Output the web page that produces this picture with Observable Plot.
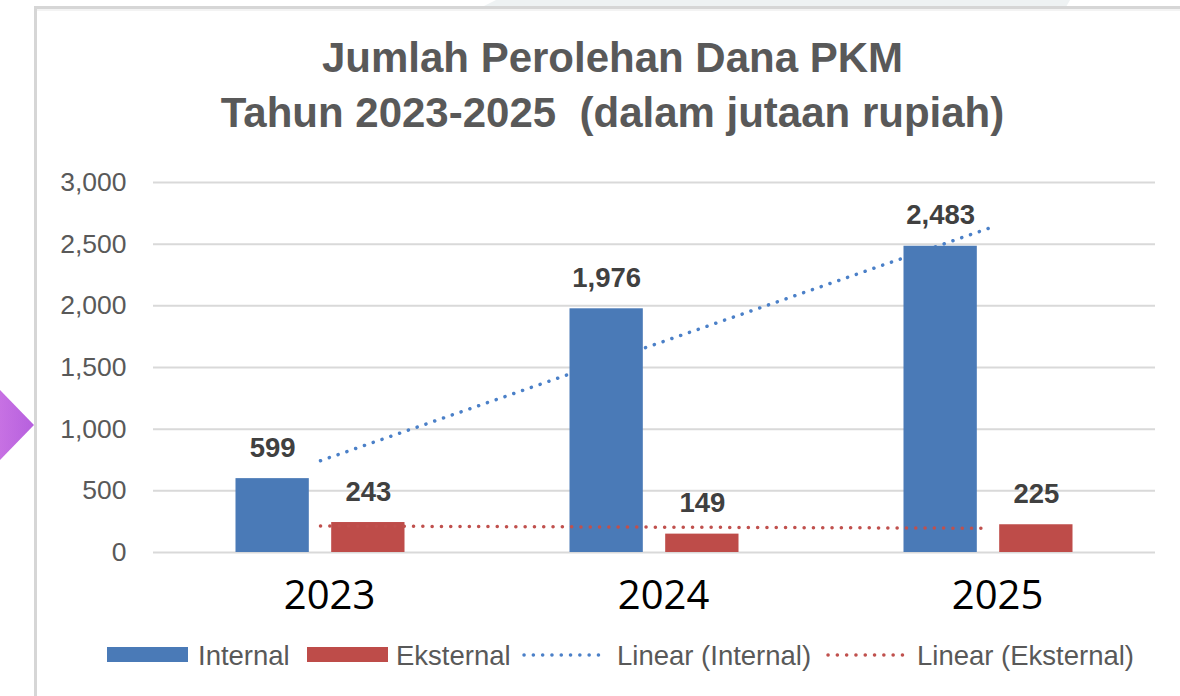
<!DOCTYPE html>
<html>
<head>
<meta charset="utf-8">
<script src="https://cdn.jsdelivr.net/npm/d3@7"></script>
<script src="https://cdn.jsdelivr.net/npm/@observablehq/plot@0.6"></script>
<style>
  html, body { margin: 0; padding: 0; background: #fff; }
  #page { position: relative; width: 1180px; height: 696px; overflow: hidden; background: #fff; font-family: "Liberation Sans", Arial, sans-serif; }
  #trap { position: absolute; left: 482px; top: 0; width: 588px; height: 7px; background: #eef2f3;
          clip-path: polygon(14px 0, 100% 0, calc(100% - 4px) 100%, 0 100%); }
  #panel { position: absolute; left: 34px; top: 6px; width: 1300px; height: 800px;
           border-left: 3px solid #d6d6d6; border-top: 3px solid #d6d6d6; box-shadow: inset 0 2px 0 #f3f3f3; }
  #tri { position: absolute; left: 0; top: 390px; width: 34px; height: 70px;
         background: linear-gradient(to right, #c771e3, #b660de); clip-path: polygon(0 0, 100% 50%, 0 100%); }
  #chart { position: absolute; left: 0; top: 0; }
  .title { position: absolute; left: 0; width: 1225px; text-align: center; font-weight: bold; font-size: 42px; line-height: 42px; color: #595959; white-space: pre; }
  .leg { position: absolute; font-size: 27.5px; line-height: 27px; color: #595959; white-space: pre; }
  .sw { position: absolute; height: 15px; }
</style>
</head>
<body>
<div id="page">
  <div id="trap"></div>
  <div id="panel"></div>
  <div id="tri"></div>
  <div id="chart"></div>
  <div class="title" style="top:37px">Jumlah Perolehan Dana PKM</div>
  <div class="title" style="top:92px">Tahun 2023-2025  (dalam jutaan rupiah)</div>
  <div id="legend"></div>
</div>
<script>
// ---- data ----
const years = [2023, 2024, 2025];
const internal = [599, 1976, 2483];
const eksternal = [243, 149, 225];
const seriesNames = ["Internal", "Eksternal"];
const yTicks = [0, 500, 1000, 1500, 2000, 2500, 3000];
const legendLabels = ["Internal", "Eksternal", "Linear (Internal)", "Linear (Eksternal)"];

// ---- styles ----
const barColors = {Internal: "#4a7ab7", Eksternal: "#be4c49"};
const trendColors = {Internal: "#4b80c8", Eksternal: "#c0504d"};
const barOffsets = {Internal: [-0.253, -0.0335], Eksternal: [0.0335, 0.253]};

const rows = years.flatMap((yr, i) => [
  {year: yr, series: "Internal", value: internal[i]},
  {year: yr, series: "Eksternal", value: eksternal[i]}
]);
const rowsInt = rows.filter(d => d.series === "Internal");
const rowsEks = rows.filter(d => d.series === "Eksternal");
const fmt = d3.format(",");

const dotted = {strokeWidth: 3.5, strokeDasharray: "0.1 9.2", strokeLinecap: "round", ci: 0};

const chart = Plot.plot({
  width: 1180,
  height: 696,
  marginTop: 182,
  marginBottom: 144,
  marginLeft: 153,
  marginRight: 25,
  x: {type: "linear", domain: [2022.5, 2025.5]},
  y: {domain: [0, 3000]},
  style: {background: "transparent", fontFamily: "Liberation Sans, Arial, sans-serif"},
  marks: [
    Plot.gridY(yTicks, {stroke: "#d9d9d9", strokeOpacity: 1, strokeWidth: 2}),
    Plot.axisY({ticks: yTicks, tickFormat: fmt, tickSize: 0, tickPadding: 27, fontSize: 26.5, fill: "#595959", label: null}),
    Plot.axisX({ticks: years, tickFormat: d => String(d), tickSize: 0, tickPadding: 28, fontSize: 40, fill: "#000", label: null, dx: 9, fontFamily: "Open Sans, sans-serif"}),
    Plot.linearRegressionY(rowsInt, {x: "year", y: "value", stroke: trendColors.Internal, ...dotted}),
    Plot.rectY(rows, {
      x1: d => d.year + barOffsets[d.series][0],
      x2: d => d.year + barOffsets[d.series][1],
      y: "value",
      fill: d => barColors[d.series]
    }),
    Plot.linearRegressionY(rowsEks, {x: "year", y: "value", stroke: trendColors.Eksternal, ...dotted}),
    Plot.text(rows, {
      x: d => d.year + (barOffsets[d.series][0] + barOffsets[d.series][1]) / 2,
      y: "value",
      text: d => fmt(d.value),
      lineAnchor: "bottom",
      dy: -22,
      fontSize: 27.5,
      fontWeight: "bold",
      fill: "#404040"
    })
  ]
});
document.getElementById("chart").appendChild(chart);

// ---- legend ----
const legend = document.getElementById("legend");
const legendPos = [
  {kind: "bar", series: "Internal", sx: 107, tx: 198},
  {kind: "bar", series: "Eksternal", sx: 307, tx: 396},
  {kind: "line", series: "Internal", sx: 522, tx: 617},
  {kind: "line", series: "Eksternal", sx: 826, tx: 917}
];
legendPos.forEach((p, i) => {
  if (p.kind === "bar") {
    const s = document.createElement("div");
    s.className = "sw";
    s.style.left = p.sx + "px";
    s.style.top = "647px";
    s.style.width = "81px";
    s.style.background = barColors[p.series];
    legend.appendChild(s);
  } else {
    const ns = "http://www.w3.org/2000/svg";
    const svg = document.createElementNS(ns, "svg");
    svg.setAttribute("width", 82);
    svg.setAttribute("height", 10);
    svg.style.position = "absolute";
    svg.style.left = p.sx + "px";
    svg.style.top = "650px";
    const ln = document.createElementNS(ns, "line");
    ln.setAttribute("x1", 2); ln.setAttribute("x2", 80);
    ln.setAttribute("y1", 5); ln.setAttribute("y2", 5);
    ln.setAttribute("stroke", trendColors[p.series]);
    ln.setAttribute("stroke-width", 3.5);
    ln.setAttribute("stroke-dasharray", "0.1 9.2");
    ln.setAttribute("stroke-linecap", "round");
    svg.appendChild(ln);
    legend.appendChild(svg);
  }
  const t = document.createElement("div");
  t.className = "leg";
  t.style.left = p.tx + "px";
  t.style.top = "642px";
  t.textContent = legendLabels[i];
  legend.appendChild(t);
});
</script>
</body>
</html>
